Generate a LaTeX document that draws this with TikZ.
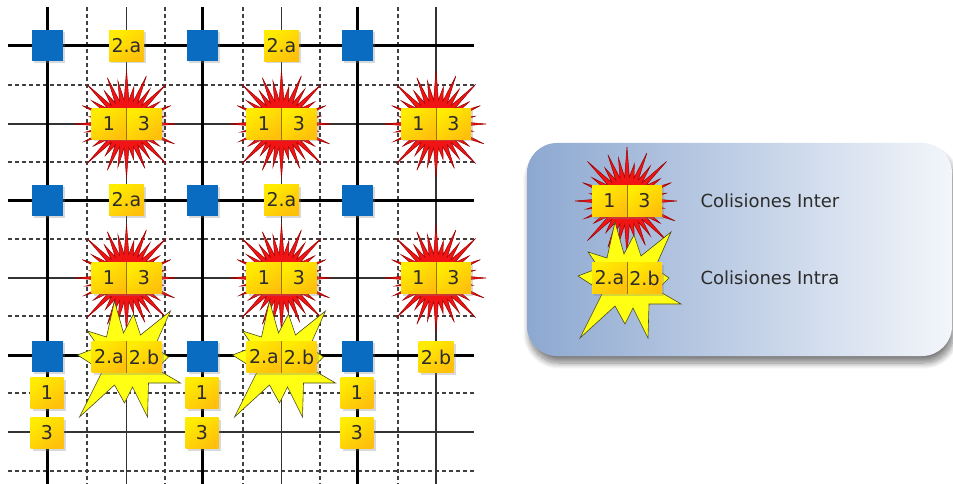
\documentclass[tikz,border=0pt]{standalone}
\usepackage{fontspec}
\setmainfont{DejaVu Sans}
\usetikzlibrary{shadows,shadows.blur}
\definecolor{sqblue}{HTML}{0A6CC0}
\definecolor{boxtop}{HTML}{FFEC00}
\definecolor{boxbot}{HTML}{FFC00C}
\definecolor{burstred}{HTML}{F01414}
\definecolor{burstedge}{HTML}{9A0000}
\definecolor{burstyellow}{HTML}{FFFF14}
\definecolor{yedge}{HTML}{4A4A20}
\definecolor{legleft}{HTML}{8DA8D0}
\definecolor{legright}{HTML}{F3F6FB}
\definecolor{txt}{HTML}{2C2C2C}
\definecolor{sepcol}{HTML}{9A7400}

\newcommand\drawredburst[1]{%
  \filldraw[burstred, draw=burstedge, line width=0.5pt, shift={#1}]
  (-5.625:24) \foreach \a/\r in {0/50,11.25/38,22.5/52,33.75/40,45/56,56.25/42,67.5/48,78.75/36,90/54,101.25/44,112.5/50,123.75/38,135/56,146.25/40,157.5/46,168.75/42,180/52,191.25/38,202.5/48,213.75/42,225/56,236.25/40,247.5/50,258.75/44,270/54,281.25/38,292.5/52,303.75/42,315/56,326.25/40,337.5/48,348.75/40} { -- (\a:\r) -- ({\a+5.625}:24) } -- cycle;}

\newcommand\drawyellowburst[1]{%
  \filldraw[burstyellow, draw=yedge, line width=0.6pt, shift={#1}]
  (-49,-2) -- (-28,-10) -- (-39,-26) -- (-20,-20) -- (-12,-56) -- (-3,-24) -- (7,-43) -- (14,-22) -- (44,-46) -- (28,-10) -- (42,0) -- (30,12) -- (54,26) -- (22,26) -- (21,60) -- (6,30) -- (-2,46) -- (-12,28) -- (-47,60) -- (-24,14) -- cycle;}

\begin{document}
\begin{tikzpicture}[x=1pt,y=-1pt,
  thickline/.style={line width=3pt, black},
  thinline/.style={line width=1.2pt, black!80},
  dashline/.style={line width=1.2pt, black!75, dash pattern=on 4pt off 3pt},
  sq/.style={fill=sqblue, minimum size=31pt, inner sep=0pt,
    drop shadow={shadow xshift=2pt, shadow yshift=-2pt, opacity=0.3}},
  lbl/.style={minimum width=35pt, minimum height=31pt, inner sep=0pt,
    top color=boxtop, bottom color=boxbot, shading angle=35,
    font=\fontsize{19}{19}\selectfont, text=txt,
    drop shadow={shadow xshift=2pt, shadow yshift=-2pt, opacity=0.3}},
  sepline/.style={sepcol, line width=0.8pt},
  legtext/.style={anchor=west, font=\fontsize{18}{18}\selectfont, text=txt}
]
\useasboundingbox (0,0) rectangle (953,484);

% grid
\foreach \y in {85,162,239,316,393,471} \draw[dashline] (8,\y) -- (474,\y);
\foreach \x in {87,165,243,320,398} \draw[dashline] (\x,7) -- (\x,484);
\foreach \y in {124,278,432} \draw[thinline] (8,\y) -- (474,\y);
\foreach \x in {126.5,281.5,436} \draw[thinline] (\x,7) -- (\x,484);
\foreach \y in {46,200,355} \draw[thickline] (8,\y) -- (474,\y);
\foreach \x in {47,202,357} \draw[thickline] (\x,7) -- (\x,484);

% bursts
\drawredburst{(126.5,124)}
\drawredburst{(281.5,124)}
\drawredburst{(436,124)}
\drawredburst{(126.5,278)}
\drawredburst{(281.5,278)}
\drawredburst{(436,278)}
\drawyellowburst{(126.5,357)}
\drawyellowburst{(281.5,357)}

% blue squares
\foreach \i/\x in {1/47,2/202,3/357}{
  \foreach \j/\y in {1/46,2/200,3/356}{
    \node[sq] (sq\i\j) at (\x,\y) {};
  }
}

% single 2.a boxes
\node[lbl] (a11) at (126.5,46) {2.a};
\node[lbl] (a21) at (281.5,46) {2.a};
\node[lbl] (a12) at (126.5,200) {2.a};
\node[lbl] (a22) at (281.5,200) {2.a};
\node[lbl] (b33) at (436,357) {2.b};

% pairs 1|3
\foreach \n/\x/\y in {p1/126.5/124,p2/281.5/124,p3/436/124,p4/126.5/278,p5/281.5/278,p6/436/278}{
  \node[lbl] (\n l) at (\x-17.5,\y) {1};
  \node[lbl] (\n r) at (\x+17.5,\y) {3};
  \draw[sepline] (\n l.north east) -- (\n l.south east);
}
% pairs 2.a|2.b
\foreach \n/\x/\y in {q1/126.5/357,q2/281.5/357}{
  \node[lbl] (\n l) at (\x-17.5,\y) {2.a};
  \node[lbl] (\n r) at (\x+17.5,\y) {2.b};
  \draw[sepline] (\n l.north east) -- (\n l.south east);
}

% 1 and 3 under squares
\foreach \n/\x in {c1/47,c2/202,c3/357}{
  \node[lbl, minimum width=33pt] (\n a) at (\x,393) {1};
  \node[lbl, minimum width=33pt] (\n b) at (\x,433) {3};
}

% legend
\path[rounded corners=30pt, left color=legleft, right color=legright,
  blur shadow={shadow xshift=2pt, shadow yshift=-7pt, shadow blur radius=6pt, shadow blur steps=10, shadow opacity=50}]
  (527,143) rectangle (952,356);
\drawredburst{(627,201)}
\drawyellowburst{(627,278)}
\node[lbl] (l1) at (609.5,201) {1};
\node[lbl] (l3) at (644.5,201) {3};
\draw[sepline] (l1.north east) -- (l1.south east);
\node[lbl] (l2a) at (609.5,278) {2.a};
\node[lbl] (l2b) at (644.5,278) {2.b};
\draw[sepline] (l2a.north east) -- (l2a.south east);
\node[legtext] (tinter) at (697,201) {Colisiones Inter};
\node[legtext] (tintra) at (697,278) {Colisiones Intra};
\end{tikzpicture}
\end{document}
